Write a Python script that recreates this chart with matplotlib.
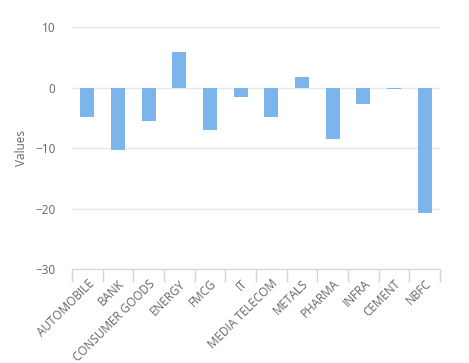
import matplotlib.pyplot as plt
import numpy as np

sectors = ['AUTOMOBILE', 'BANK', 'CONSUMER GOODS', 'ENERGY', 'FMCG', 'IT',
           'MEDIA TELECOM', 'METALS', 'PHARMA', 'INFRA', 'CEMENT', 'NBFC']
values = [-4.85, -10.4, -5.5, 5.85, -6.95, -1.55,
          -4.8, 1.75, -8.5, -2.7, -0.25, -20.7]
y_ticks = [-30, -20, -10, 0, 10]

plt.rcParams['font.family'] = ['Open Sans', 'DejaVu Sans']

fig = plt.figure(figsize=(4.69, 3.63), dpi=100)
ax = fig.add_axes([72 / 469, 1 - 269 / 363, 368 / 469, 242 / 363])

x = np.arange(len(sectors))
ax.bar(x, values, width=0.46, color='#7cb5ec', linewidth=0, zorder=3)

ax.set_xlim(-0.5, len(sectors) - 0.5)
ax.set_ylim(-30, 10)
ax.set_yticks(y_ticks)
ax.yaxis.grid(True, color='#e6e6e6', linewidth=1, zorder=0)
ax.tick_params(axis='y', length=0, labelsize=8.5, labelcolor='#666666', pad=12)

ax.set_xticks(x)
ax.set_xticklabels(sectors, rotation=45, ha='right', rotation_mode='anchor',
                   fontsize=8.5, color='#666666')
ax.tick_params(axis='x', which='major', length=0, pad=6)
ax.set_xticks(np.arange(-0.5, len(sectors)), minor=True)
ax.tick_params(axis='x', which='minor', length=9, color='#ccd6eb', width=1)

for side in ['top', 'right', 'left']:
    ax.spines[side].set_visible(False)
ax.spines['bottom'].set_color('#ccd6eb')

ax.set_ylabel('Values', fontsize=8.5, color='#666666', labelpad=5)

fig.savefig('out.png', dpi=100, facecolor='white')
